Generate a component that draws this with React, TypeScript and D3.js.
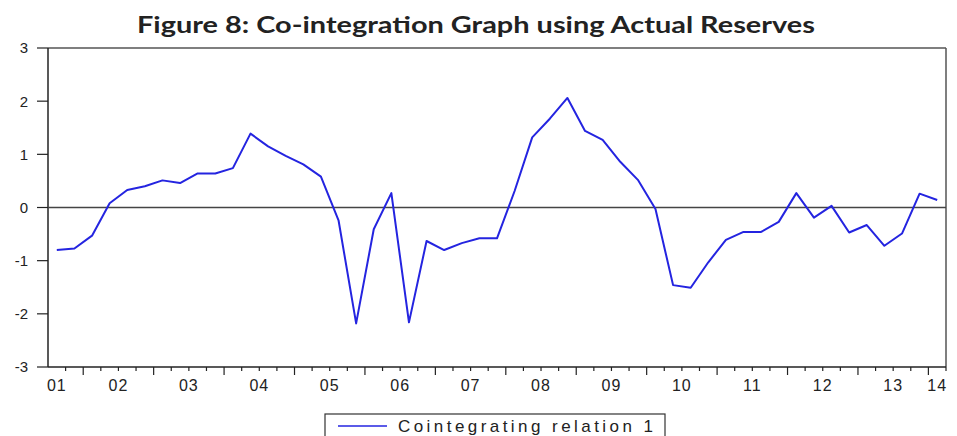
import React from "react";
import * as d3 from "d3";

// Quarterly observations 2001Q3 .. 2014Q1
const startYear = 2001;
const startQuarter = 3;
const values: number[] = [
  -0.80, -0.77, -0.53, 0.08, 0.33, 0.40, 0.51, 0.46, 0.64, 0.64,
  0.74, 1.39, 1.15, 0.97, 0.81, 0.58, -0.24, -2.18, -0.41, 0.27,
  -2.16, -0.63, -0.80, -0.67, -0.58, -0.58, 0.31, 1.32, 1.67, 2.06,
  1.44, 1.27, 0.86, 0.52, -0.03, -1.46, -1.51, -1.03, -0.61, -0.46,
  -0.46, -0.27, 0.27, -0.19, 0.03, -0.47, -0.33, -0.72, -0.49, 0.26,
  0.14,
];
const yTicks: number[] = [-3, -2, -1, 0, 1, 2, 3];
const yearLabels: string[] = ["01", "02", "03", "04", "05", "06", "07", "08", "09", "10", "11", "12", "13", "14"];
const title = "Figure 8: Co-integration Graph using Actual Reserves";
const seriesName = "Cointegrating relation 1";

const W = 957;
const H = 436;
const m = { left: 48, right: 946, top: 48, bottom: 367 };

export default function App() {
  const n = values.length;
  const x = d3.scaleLinear().domain([0, n]).range([m.left, m.right]);
  const y = d3.scaleLinear().domain([-3, 3]).range([m.bottom, m.top]);
  const line = d3
    .line<number>()
    .x((_, i) => x(i + 0.5))
    .y((d) => y(d));

  const yearStartIdx = (yr: number) => (yr - startYear) * 4 - (startQuarter - 1);
  const boundaries = d3.range(1, n + 1);
  const isMajor = (b: number) => (b + (startQuarter - 1)) % 4 === 0;

  const blue = "#2424e0";
  const font = "'Liberation Sans', Arial, sans-serif";

  return (
    <svg
      width={W}
      height={H}
      style={{ position: "absolute", left: 0, top: 0, background: "#fff" }}
    >
      <text
        x={476}
        y={33}
        textAnchor="middle"
        fontFamily="Lato, 'DejaVu Sans', sans-serif"
        fontWeight="bold"
        fontSize={22}
        fill="#222"
        textLength={678}
        lengthAdjust="spacingAndGlyphs"
      >
        {title}
      </text>

      {/* frame */}
      <line x1={m.left} x2={m.right} y1={m.top} y2={m.top} stroke="#555" strokeWidth={1.5} />
      <line x1={m.right} x2={m.right} y1={m.top} y2={m.bottom} stroke="#555" strokeWidth={1.5} />
      <line x1={m.left} x2={m.left} y1={m.top} y2={m.bottom} stroke="#222" strokeWidth={1.5} />
      <line x1={m.left} x2={m.right} y1={m.bottom} y2={m.bottom} stroke="#222" strokeWidth={1.5} />

      {/* zero line */}
      <line x1={m.left} x2={m.right} y1={y(0)} y2={y(0)} stroke="#444" strokeWidth={1.5} />

      {/* y ticks */}
      {yTicks.map((t) => (
        <g key={t}>
          <line x1={m.left - 11} x2={m.left} y1={y(t)} y2={y(t)} stroke="#222" strokeWidth={1.2} />
          <text
            x={28}
            y={y(t)}
            dy="0.36em"
            textAnchor="end"
            fontFamily={font}
            fontSize={15}
            fill="#222"
          >
            {t}
          </text>
        </g>
      ))}

      {/* x ticks */}
      {boundaries.map((b) => (
        <line
          key={b}
          x1={x(b)}
          x2={x(b)}
          y1={m.bottom}
          y2={m.bottom + (isMajor(b) ? 8 : 4)}
          stroke="#222"
          strokeWidth={1.2}
        />
      ))}
      {yearLabels.map((lab, i) => {
        const yr = startYear + i;
        const mid = Math.min(Math.max(yearStartIdx(yr) + 2, 0.5), n - 0.5);
        return (
          <text
            key={lab}
            x={x(mid)}
            y={391}
            textAnchor="middle"
            fontFamily={font}
            fontSize={16}
            letterSpacing={1}
            fill="#222"
          >
            {lab}
          </text>
        );
      })}

      {/* series */}
      <path d={line(values) || ""} fill="none" stroke={blue} strokeWidth={2} strokeLinejoin="round" />

      {/* legend */}
      <rect x={325} y={414} width={340} height={40} fill="#fff" stroke="#333" strokeWidth={1.2} />
      <line x1={338} x2={387} y1={426} y2={426} stroke={blue} strokeWidth={1.5} />
      <text
        x={398}
        y={432}
        fontFamily={font}
        fontSize={17}
        fill="#222"
        textLength={255}
        lengthAdjust="spacing"
      >
        {seriesName}
      </text>
    </svg>
  );
}
